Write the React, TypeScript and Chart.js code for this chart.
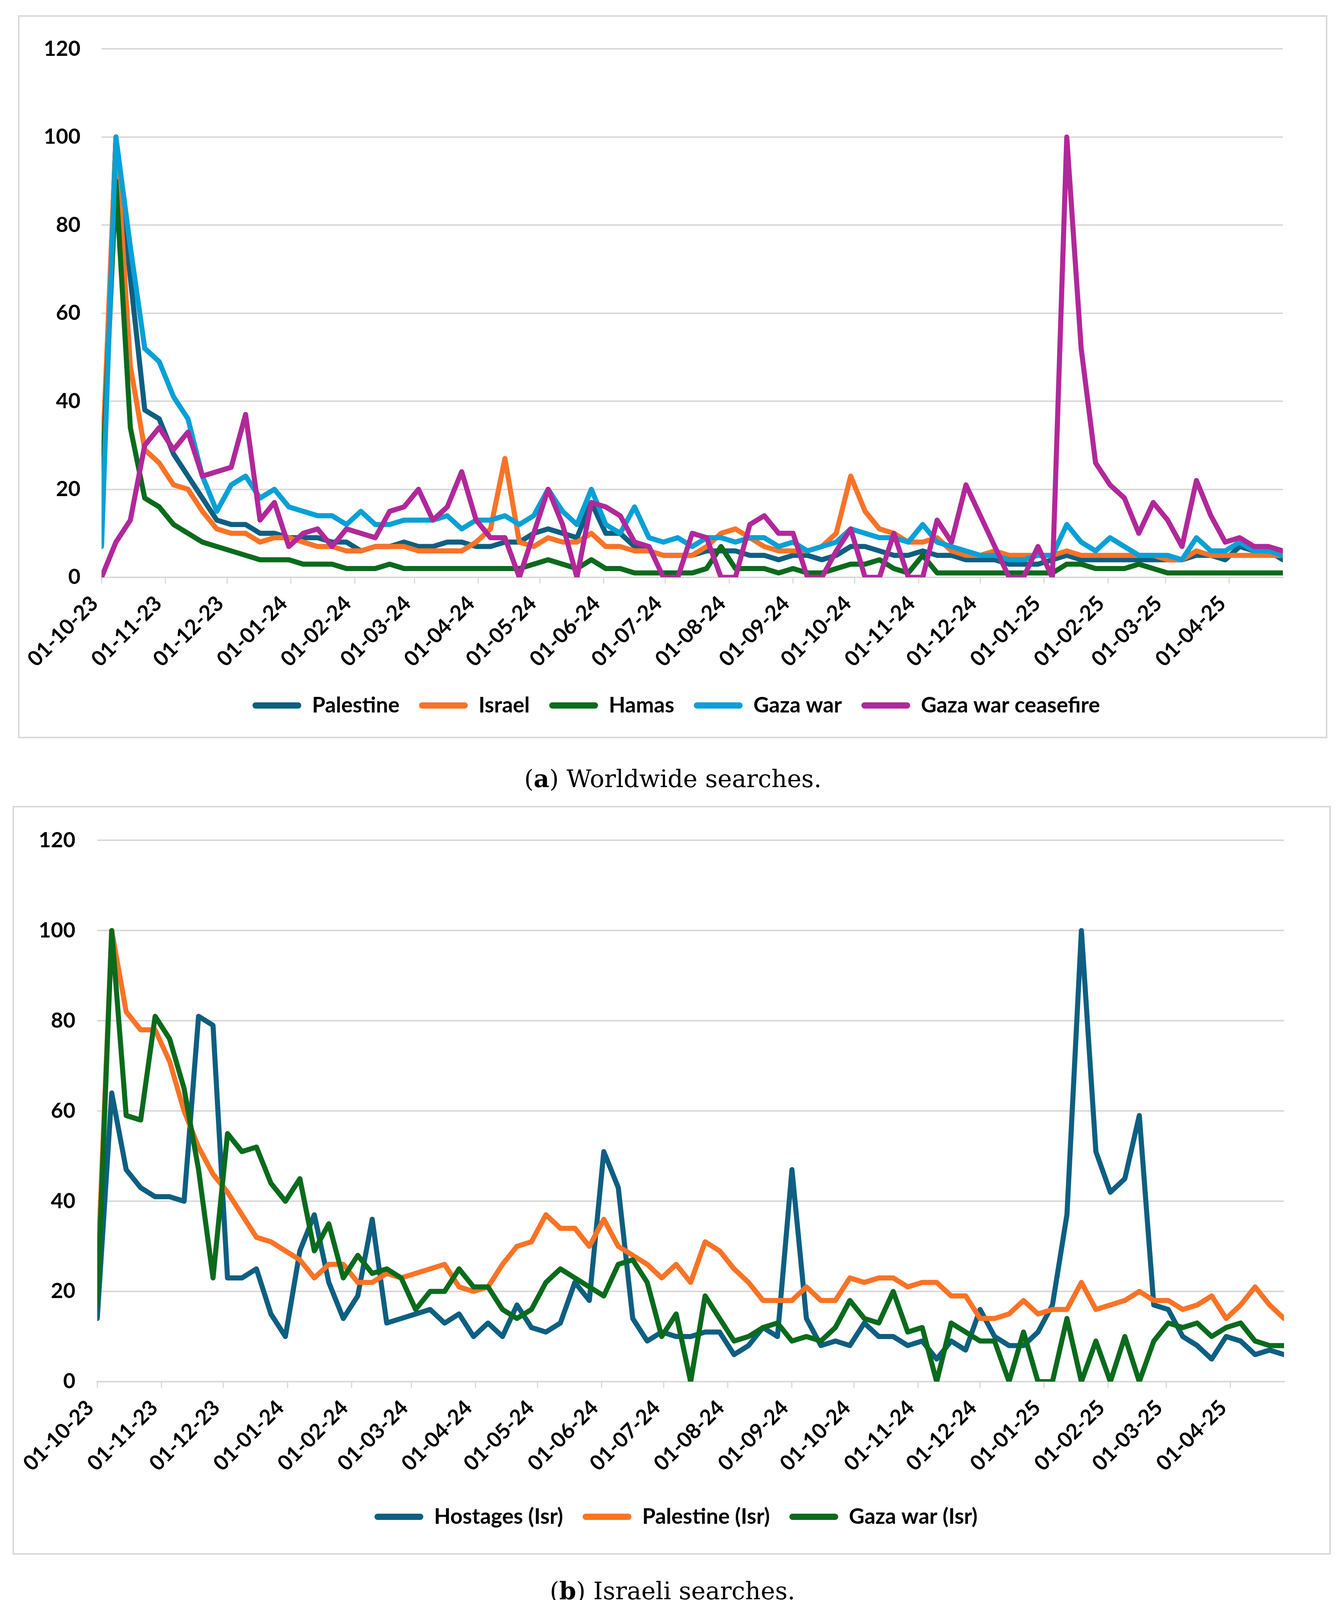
import React, { useEffect, useRef } from 'react';
import { Chart, registerables } from 'chart.js';

Chart.register(...registerables);

// ---------- data ----------
const WEEK_START = '2023-10-01';
const X_TICK_LABELS = [
  '01-10-23', '01-11-23', '01-12-23', '01-01-24', '01-02-24', '01-03-24', '01-04-24',
  '01-05-24', '01-06-24', '01-07-24', '01-08-24', '01-09-24', '01-10-24', '01-11-24',
  '01-12-24', '01-01-25', '01-02-25', '01-03-25', '01-04-25',
];

const WORLD_NAMES = ['Palestine', 'Israel', 'Hamas', 'Gaza war', 'Gaza war ceasefire'];
const WORLD_PALESTINE = [
  20, 100, 68, 38, 36, 28, 23, 18, 13, 12,
  12, 10, 10, 9, 9, 9, 8, 8, 6, 7,
  7, 8, 7, 7, 8, 8, 7, 7, 8, 8,
  10, 11, 10, 9, 17, 10, 10, 7, 6, 5,
  5, 5, 6, 6, 6, 5, 5, 4, 5, 5,
  4, 5, 7, 7, 6, 5, 5, 6, 5, 5,
  4, 4, 4, 3, 3, 3, 4, 5, 4, 4,
  4, 4, 4, 4, 4, 4, 5, 5, 4, 7,
  6, 6, 4,
];
const WORLD_ISRAEL = [
  22, 100, 48, 29, 26, 21, 20, 15, 11, 10,
  10, 8, 9, 9, 8, 7, 7, 6, 6, 7,
  7, 7, 6, 6, 6, 6, 8, 11, 27, 8,
  7, 9, 8, 8, 10, 7, 7, 6, 6, 5,
  5, 5, 7, 10, 11, 9, 7, 6, 6, 6,
  7, 10, 23, 15, 11, 10, 8, 8, 9, 6,
  5, 5, 6, 5, 5, 5, 5, 6, 5, 5,
  5, 5, 5, 5, 4, 4, 6, 5, 5, 5,
  5, 5, 5,
];
const WORLD_HAMAS = [
  18, 90, 34, 18, 16, 12, 10, 8, 7, 6,
  5, 4, 4, 4, 3, 3, 3, 2, 2, 2,
  3, 2, 2, 2, 2, 2, 2, 2, 2, 2,
  3, 4, 3, 2, 4, 2, 2, 1, 1, 1,
  1, 1, 2, 7, 2, 2, 2, 1, 2, 1,
  1, 2, 3, 3, 4, 2, 1, 5, 1, 1,
  1, 1, 1, 1, 1, 1, 1, 3, 3, 2,
  2, 2, 3, 2, 1, 1, 1, 1, 1, 1,
  1, 1, 1,
];
const WORLD_GAZA_WAR = [
  7, 100, 75, 52, 49, 41, 36, 23, 15, 21,
  23, 18, 20, 16, 15, 14, 14, 12, 15, 12,
  12, 13, 13, 13, 14, 11, 13, 13, 14, 12,
  14, 20, 15, 12, 20, 12, 10, 16, 9, 8,
  9, 7, 9, 9, 8, 9, 9, 7, 8, 6,
  7, 8, 11, 10, 9, 9, 8, 12, 8, 7,
  6, 5, 5, 4, 4, 5, 5, 12, 8, 6,
  9, 7, 5, 5, 5, 4, 9, 6, 6, 8,
  6, 6, 5,
];
const WORLD_CEASEFIRE = [
  0, 8, 13, 30, 34, 29, 33, 23, 24, 25,
  37, 13, 17, 7, 10, 11, 7, 11, 10, 9,
  15, 16, 20, 13, 16, 24, 13, 9, 9, 0,
  10, 20, 12, 0, 17, 16, 14, 8, 7, 0,
  0, 10, 9, 0, 0, 12, 14, 10, 10, 0,
  0, 6, 11, 0, 0, 10, 0, 0, 13, 8,
  21, 14, 7, 0, 0, 7, 0, 100, 52, 26,
  21, 18, 10, 17, 13, 7, 22, 14, 8, 9,
  7, 7, 6,
];

const ISR_NAMES = ['Hostages (Isr)', 'Palestine (Isr)', 'Gaza war (Isr)'];
const ISR_HOSTAGES = [
  14, 64, 47, 43, 41, 41, 40, 81, 79, 23,
  23, 25, 15, 10, 29, 37, 22, 14, 19, 36,
  13, 14, 15, 16, 13, 15, 10, 13, 10, 17,
  12, 11, 13, 22, 18, 51, 43, 14, 9, 11,
  10, 10, 11, 11, 6, 8, 12, 10, 47, 14,
  8, 9, 8, 13, 10, 10, 8, 9, 5, 9,
  7, 16, 10, 8, 8, 11, 17, 37, 100, 51,
  42, 45, 59, 17, 16, 10, 8, 5, 10, 9,
  6, 7, 6,
];
const ISR_PALESTINE = [
  22, 100, 82, 78, 78, 71, 60, 52, 46, 42,
  37, 32, 31, 29, 27, 23, 26, 26, 22, 22,
  24, 23, 24, 25, 26, 21, 20, 21, 26, 30,
  31, 37, 34, 34, 30, 36, 30, 28, 26, 23,
  26, 22, 31, 29, 25, 22, 18, 18, 18, 21,
  18, 18, 23, 22, 23, 23, 21, 22, 22, 19,
  19, 14, 14, 15, 18, 15, 16, 16, 22, 16,
  17, 18, 20, 18, 18, 16, 17, 19, 14, 17,
  21, 17, 14,
];
const ISR_GAZA_WAR = [
  17, 100, 59, 58, 81, 76, 65, 47, 23, 55,
  51, 52, 44, 40, 45, 29, 35, 23, 28, 24,
  25, 23, 16, 20, 20, 25, 21, 21, 16, 14,
  16, 22, 25, 23, 21, 19, 26, 27, 22, 10,
  15, 0, 19, 14, 9, 10, 12, 13, 9, 10,
  9, 12, 18, 14, 13, 20, 11, 12, 0, 13,
  11, 9, 9, 0, 11, 0, 0, 14, 0, 9,
  0, 10, 0, 9, 13, 12, 13, 10, 12, 13,
  9, 8, 8,
];

// ---------- styles ----------
const WORLD_COLORS = ['#0E5F81', '#F97326', '#0A6B1C', '#08A0D6', '#B1289A'];
const ISR_COLORS = ['#0E5F81', '#F97326', '#0A6B1C'];
const GRID = '#d9d9d9';
const FONT_FAMILY = 'Lato, "Noto Sans", sans-serif';

const DAY_MS = 86400000;
function parseIso(s: string): number {
  const [y, m, d] = s.split('-').map(Number);
  return Date.UTC(y, m - 1, d);
}
function dayOffset(label: string): number {
  const [d, m, y] = label.split('-').map(Number);
  return Math.round((Date.UTC(2000 + y, m - 1, d) - parseIso(WEEK_START)) / DAY_MS);
}

type PanelProps = {
  left: number; top: number; width: number; height: number;
  padLeft: number; padTop: number; padBottom: number;
  yAxisWidth: number; yTickPad: number; rightWidth: number; xAxisHeight: number;
  names: string[]; colors: string[]; series: number[][];
};

function Panel(p: PanelProps) {
  const ref = useRef<HTMLCanvasElement | null>(null);
  useEffect(() => {
    const canvas = ref.current;
    if (!canvas) return;
    const tickDays = X_TICK_LABELS.map(dayOffset);
    const n = p.series[0].length;
    const maxDay = 7 * (n - 1);
    const tickFont = { family: FONT_FAMILY, weight: 'bold' as const, size: 54 };
    const chart = new Chart(canvas, {
      type: 'line',
      data: {
        datasets: p.series.map((vals, i) => ({
          label: p.names[i],
          data: vals.map((v, k) => ({ x: 7 * k, y: v })),
          borderColor: p.colors[i],
          backgroundColor: p.colors[i],
          borderWidth: 13,
          pointRadius: 0,
          pointHoverRadius: 0,
          tension: 0,
          fill: false,
          borderJoinStyle: 'round' as const,
          borderCapStyle: 'round' as const,
          order: p.series.length - i,
        })),
      },
      options: {
        animation: false,
        responsive: false,
        devicePixelRatio: 1,
        events: [],
        layout: { padding: { left: p.padLeft, top: p.padTop, right: 0, bottom: p.padBottom } },
        scales: {
          x: {
            type: 'linear',
            position: 'bottom',
            min: 0,
            max: maxDay,
            afterBuildTicks: (s: any) => { s.ticks = tickDays.map((v) => ({ value: v })); },
            afterFit: (s: any) => { s.height = p.xAxisHeight; },
            grid: { display: true, drawOnChartArea: false, drawTicks: true, tickLength: 16, color: GRID, lineWidth: 3 },
            border: { display: true, color: GRID, width: 4 },
            ticks: {
              autoSkip: false,
              minRotation: 45,
              maxRotation: 45,
              padding: 19,
              labelOffset: -18,
              color: '#000',
              font: tickFont,
              callback: (_v: any, idx: number) => X_TICK_LABELS[idx],
            },
          },
          y: {
            type: 'linear',
            position: 'left',
            min: 0,
            max: 120,
            afterFit: (s: any) => { s.width = p.yAxisWidth; },
            grid: { color: GRID, lineWidth: 4, drawTicks: false },
            border: { display: false },
            ticks: { stepSize: 20, padding: p.yTickPad, color: '#000', font: tickFont },
          },
          yR: {
            type: 'linear',
            position: 'right',
            min: 0,
            max: 1,
            display: true,
            grid: { display: false },
            border: { display: false },
            ticks: { display: false },
            afterFit: (s: any) => { s.width = p.rightWidth; },
          },
        },
        plugins: {
          legend: {
            display: true,
            position: 'bottom',
            align: 'center',
            labels: {
              boxWidth: 125,
              boxHeight: 16,
              useBorderRadius: true,
              borderRadius: 8,
              padding: 50,
              color: '#000',
              font: { family: FONT_FAMILY, weight: 'bold', size: 55 },
              generateLabels: (c: any) =>
                (Chart.defaults.plugins.legend.labels as any).generateLabels(c).map((l: any) => ({
                  ...l,
                  lineWidth: 0,
                  fillStyle: l.strokeStyle,
                })),
              sort: (a: any, b: any) => a.datasetIndex - b.datasetIndex,
            },
          },
          tooltip: { enabled: false },
        },
      } as any,
    });
    return () => chart.destroy();
  }, []);

  return (
    <div style={{ position: 'absolute', left: p.left, top: p.top, width: p.width, height: p.height }}>
      <canvas
        ref={ref}
        width={p.width}
        height={p.height}
        style={{ position: 'absolute', left: 0, top: 0, width: p.width, height: p.height }}
      />
      <div
        style={{
          position: 'absolute', left: 0, top: 0, width: p.width, height: p.height,
          border: `4px solid ${GRID}`, boxSizing: 'border-box', pointerEvents: 'none',
        }}
      />
    </div>
  );
}

function Caption({ cx, cy, letter, text }: { cx: number; cy: number; letter: string; text: string }) {
  return (
    <div
      style={{
        position: 'absolute', left: cx - 1000, width: 2000, top: cy - 50, height: 100,
        lineHeight: '100px', textAlign: 'center', whiteSpace: 'nowrap',
        fontFamily: '"DejaVu Serif", "Liberation Serif", serif', fontSize: 62, color: '#000',
      }}
    >
      (<b>{letter}</b>) {text}
    </div>
  );
}

export default function App() {
  useEffect(() => {
    document.body.style.margin = '0';
    document.body.style.background = '#fff';
  }, []);
  return (
    <div style={{ position: 'absolute', left: 0, top: 0, width: 3439, height: 4135, background: '#fff', overflow: 'hidden' }}>
      <Panel
        left={46} top={39} width={3353} height={1851}
        padLeft={18} padTop={68} padBottom={46.5}
        yAxisWidth={196} yTickPad={54} rightWidth={114} xAxisHeight={250.5}
        names={WORLD_NAMES}
        colors={WORLD_COLORS}
        series={[WORLD_PALESTINE, WORLD_ISRAEL, WORLD_HAMAS, WORLD_GAZA_WAR, WORLD_CEASEFIRE]}
      />
      <Caption cx={1723} cy={1994} letter="a" text="Worldwide searches." />
      <Panel
        left={32} top={2063} width={3376} height={1917}
        padLeft={22} padTop={72} padBottom={59.5}
        yAxisWidth={195} yTickPad={56} rightWidth={120} xAxisHeight={268.5}
        names={ISR_NAMES}
        colors={ISR_COLORS}
        series={[ISR_HOSTAGES, ISR_PALESTINE, ISR_GAZA_WAR]}
      />
      <Caption cx={1722} cy={4073} letter="b" text="Israeli searches." />
    </div>
  );
}
